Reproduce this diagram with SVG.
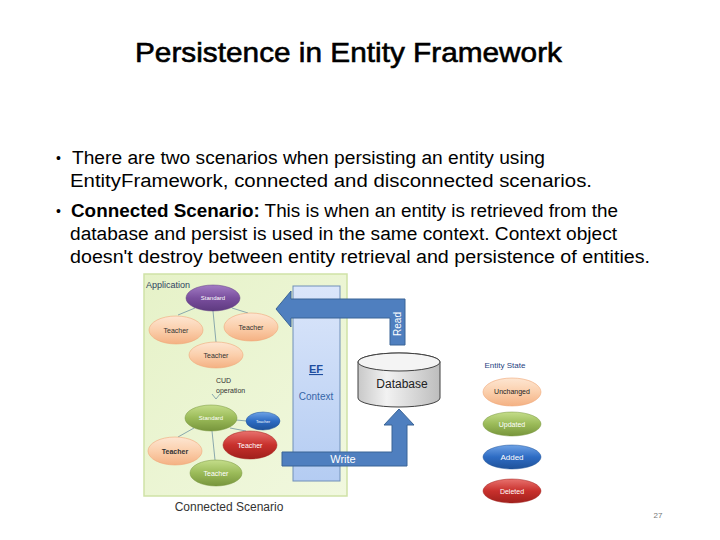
<svg xmlns="http://www.w3.org/2000/svg" width="720" height="540" viewBox="0 0 720 540">
<style>
.title{font-family:"Liberation Sans",Arial,sans-serif;font-size:28px;fill:#000;stroke:#000;stroke-width:0.6}
.body{font-family:"Liberation Sans",Arial,sans-serif;font-size:18px;fill:#000}
.bul{font-family:"Liberation Sans",Arial,sans-serif;font-size:14px;fill:#000}
.sm{font-family:"Liberation Sans",Arial,sans-serif;text-anchor:middle}
.edge{stroke:#7f9fa8;stroke-width:0.9;fill:none}
.arrow{fill:#4f7fbf;stroke:#3a6596;stroke-width:1}
</style>
<defs>
<linearGradient id="gPurple" x1="0" y1="0" x2="0" y2="1"><stop offset="0" stop-color="#a27cc4"/><stop offset="0.5" stop-color="#7a4f9e"/><stop offset="1" stop-color="#5e3a80"/></linearGradient>
<linearGradient id="gOrange" x1="0" y1="0" x2="0" y2="1"><stop offset="0" stop-color="#fde6d2"/><stop offset="0.5" stop-color="#fbcfac"/><stop offset="1" stop-color="#f4b183"/></linearGradient>
<linearGradient id="gGreen" x1="0" y1="0" x2="0" y2="1"><stop offset="0" stop-color="#c4dd8a"/><stop offset="0.5" stop-color="#9bbb59"/><stop offset="1" stop-color="#77953c"/></linearGradient>
<linearGradient id="gRed" x1="0" y1="0" x2="0" y2="1"><stop offset="0" stop-color="#e8726e"/><stop offset="0.5" stop-color="#c8302c"/><stop offset="1" stop-color="#a0201c"/></linearGradient>
<linearGradient id="gBlue" x1="0" y1="0" x2="0" y2="1"><stop offset="0" stop-color="#6fa3e6"/><stop offset="0.5" stop-color="#2e6cc4"/><stop offset="1" stop-color="#1f5299"/></linearGradient>
<linearGradient id="gApp" x1="0" y1="0" x2="1" y2="1"><stop offset="0" stop-color="#e6f2c8"/><stop offset="1" stop-color="#f1f8df"/></linearGradient>
<linearGradient id="gEF" x1="0" y1="0" x2="0" y2="1"><stop offset="0" stop-color="#dbe6fa"/><stop offset="1" stop-color="#b4ccf2"/></linearGradient>
<linearGradient id="gDB" x1="0" y1="0" x2="1" y2="0"><stop offset="0" stop-color="#c8c8c8"/><stop offset="0.35" stop-color="#f2f2f2"/><stop offset="1" stop-color="#bdbdbd"/></linearGradient>
</defs>
<rect width="720" height="540" fill="#fff"/>
<g id="title"><text class="title" x="135" y="62" textLength="427" lengthAdjust="spacingAndGlyphs">Persistence in Entity Framework</text></g>
<g id="bullets">
<text class="bul" x="56" y="163">•</text>
<text class="body" x="72" y="164" textLength="473" lengthAdjust="spacingAndGlyphs">There are two scenarios when persisting an entity using</text>
<text class="body" x="70" y="187" textLength="522" lengthAdjust="spacingAndGlyphs">EntityFramework, connected and disconnected scenarios.</text>
<text class="bul" x="56" y="216">•</text>
<text class="body" x="71" y="217" textLength="547" lengthAdjust="spacingAndGlyphs"><tspan font-weight="bold">Connected Scenario:</tspan> This is when an entity is retrieved from the</text>
<text class="body" x="70" y="240" textLength="547" lengthAdjust="spacingAndGlyphs">database and persist is used in the same context. Context object</text>
<text class="body" x="70" y="263" textLength="580" lengthAdjust="spacingAndGlyphs">doesn't destroy between entity retrieval and persistence of entities.</text>
</g>
<g id="app-box">
<rect x="144" y="274" width="203" height="222" fill="url(#gApp)" stroke="#cfe2a6" stroke-width="1.5"/>
<text class="sm" x="146" y="288" font-size="9" fill="#2f3f5f" style="text-anchor:start">Application</text>
<text class="sm" x="229" y="511" font-size="12" fill="#333">Connected Scenario</text>
</g>
<g id="ef-context">
<rect x="293" y="286" width="47" height="195" fill="url(#gEF)" stroke="#7090b8" stroke-width="1"/>
<text class="sm" x="316" y="373" font-size="11" font-weight="bold" fill="#1f4e9f" text-decoration="underline">EF</text>
<text class="sm" x="316" y="400" font-size="10" fill="#3566a8">Context</text>
</g>
<g id="connectors">
<line class="edge" x1="195" y1="308" x2="178" y2="315"/>
<line class="edge" x1="232" y1="308" x2="248" y2="313"/>
<line class="edge" x1="213" y1="311" x2="216" y2="342"/>
<line class="edge" x1="236" y1="420" x2="247" y2="421"/>
<line class="edge" x1="194" y1="428" x2="178" y2="437"/>
<line class="edge" x1="230" y1="428" x2="246" y2="431"/>
<line class="edge" x1="212" y1="431" x2="215" y2="460"/>
<path d="M212,394 L216,399 L220,394" fill="none" stroke="#7f9fa8" stroke-width="0.9"/>
<polygon class="arrow" points="276,309 291,291 291,299 405,299 405,345 390,345 390,318 291,318 291,327"/>
<polygon class="arrow" points="282,452 392,452 392,425 384,425 399,409 414,425 407,425 407,466 282,466"/>
<text class="sm" x="0" y="0" font-size="10" fill="#fff" transform="translate(401,324) rotate(-90)">Read</text>
<text class="sm" x="343" y="463" font-size="11" fill="#fff">Write</text>
</g>
<g id="n-standard"><ellipse cx="213" cy="298" rx="27" ry="13" fill="url(#gPurple)" stroke="#5e3a80" stroke-width="0.5"/><text class="sm" x="213" y="300" font-size="6" fill="#fff">Standard</text></g>
<g id="n-teacher1"><ellipse cx="176" cy="330" rx="27" ry="14" fill="url(#gOrange)" stroke="#f0a878" stroke-width="0.6"/><text class="sm" x="176" y="333" font-size="7" fill="#333">Teacher</text></g>
<g id="n-teacher2"><ellipse cx="251" cy="327" rx="27" ry="14" fill="url(#gOrange)" stroke="#f0a878" stroke-width="0.6"/><text class="sm" x="251" y="330" font-size="7" fill="#333">Teacher</text></g>
<g id="n-teacher3"><ellipse cx="216" cy="355" rx="27" ry="13" fill="url(#gOrange)" stroke="#f0a878" stroke-width="0.6"/><text class="sm" x="216" y="358" font-size="7" fill="#333">Teacher</text></g>
<g id="n-cud"><text class="sm" x="216" y="383" font-size="7" fill="#333" style="text-anchor:start">CUD</text><text class="sm" x="216" y="393" font-size="7" fill="#333" style="text-anchor:start">operation</text></g>
<g id="n-standard2"><ellipse cx="211" cy="418" rx="26" ry="13" fill="url(#gGreen)" stroke="#77953c" stroke-width="0.5"/><text class="sm" x="211" y="420" font-size="6" fill="#fff">Standard</text></g>
<g id="n-teacher-blue"><ellipse cx="263" cy="421" rx="17" ry="9" fill="url(#gBlue)" stroke="#1f5299" stroke-width="0.5"/><text class="sm" x="263" y="423" font-size="4" fill="#fff">Teacher</text></g>
<g id="n-teacher-orange"><ellipse cx="175" cy="451" rx="27" ry="14" fill="url(#gOrange)" stroke="#f0a878" stroke-width="0.6"/><text class="sm" x="175" y="454" font-size="7" font-weight="bold" fill="#333">Teacher</text></g>
<g id="n-teacher-red"><ellipse cx="250" cy="445" rx="27" ry="14" fill="url(#gRed)" stroke="#a0201c" stroke-width="0.5"/><text class="sm" x="250" y="448" font-size="7" fill="#fff">Teacher</text></g>
<g id="n-teacher-green"><ellipse cx="216" cy="473" rx="26" ry="13" fill="url(#gGreen)" stroke="#77953c" stroke-width="0.5"/><text class="sm" x="216" y="476" font-size="7" fill="#fff">Teacher</text></g>
<g id="n-database">
<path d="M358,362 A41,9 0 0 1 440,362 L440,398 A41,9 0 0 1 358,398 Z" fill="url(#gDB)" stroke="#404040" stroke-width="1"/>
<ellipse cx="399" cy="362" rx="41" ry="9" fill="#f4f4f4" stroke="#404040" stroke-width="1"/>
<text class="sm" x="402" y="388" font-size="12" fill="#222">Database</text>
</g>
<g id="entity-state">
<text class="sm" x="505" y="368" font-size="8" fill="#1f3f7f">Entity State</text>
<g id="s-unchanged"><ellipse cx="512" cy="392" rx="29" ry="14" fill="url(#gOrange)" stroke="#f0a878" stroke-width="0.6"/><text class="sm" x="512" y="394" font-size="7" fill="#222">Unchanged</text></g>
<g id="s-updated"><ellipse cx="512" cy="424" rx="29" ry="12" fill="url(#gGreen)" stroke="#77953c" stroke-width="0.5"/><text class="sm" x="512" y="427" font-size="7" fill="#fff">Updated</text></g>
<g id="s-added"><ellipse cx="512" cy="457" rx="29" ry="12" fill="url(#gBlue)" stroke="#1f5299" stroke-width="0.5"/><text class="sm" x="512" y="460" font-size="8" fill="#fff">Added</text></g>
<g id="s-deleted"><ellipse cx="512" cy="491" rx="29" ry="12" fill="url(#gRed)" stroke="#a0201c" stroke-width="0.5"/><text class="sm" x="512" y="494" font-size="7" fill="#fff">Deleted</text></g>
</g>
<g id="page-number"><text class="sm" x="658" y="518" font-size="8" fill="#777">27</text></g>
</svg>
